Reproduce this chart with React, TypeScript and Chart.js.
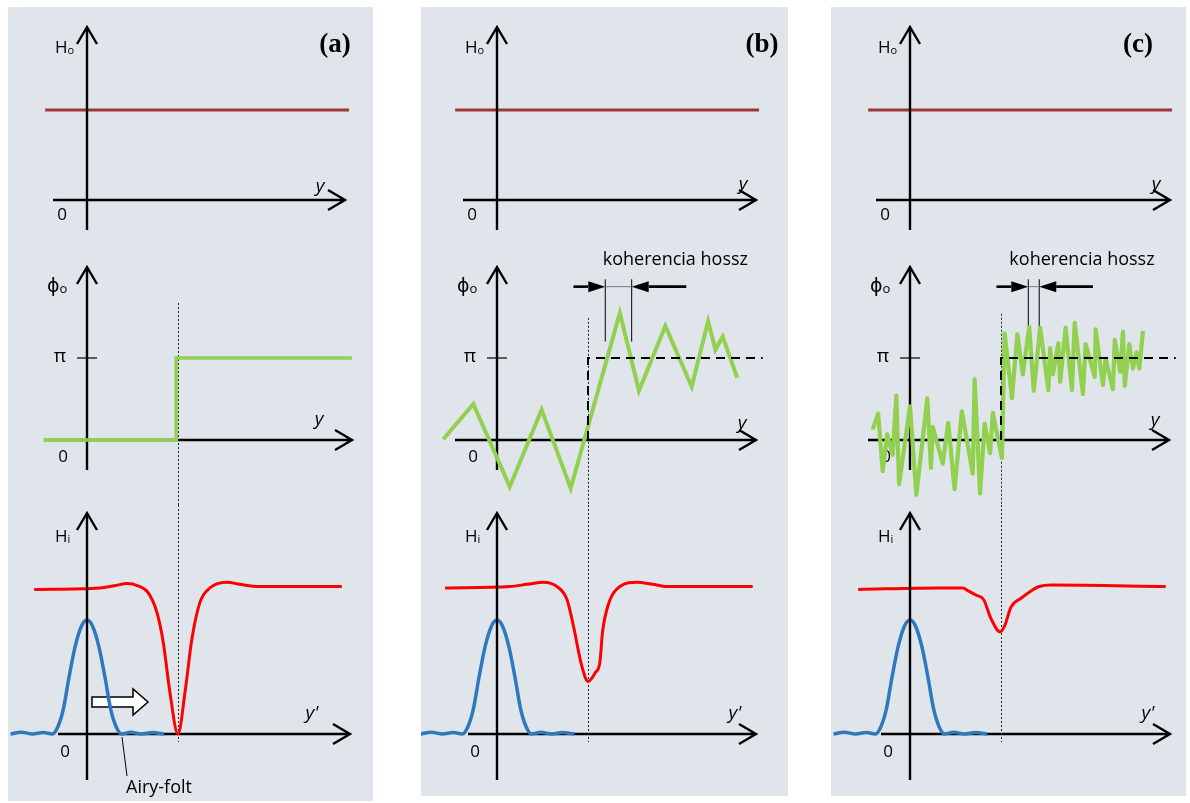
import React, { useEffect, useRef } from "react";
import { Chart, registerables } from "chart.js";
Chart.register(...registerables);

// ---------------- data ----------------
// x: position along y (edge of the object at x = 1, optical axis at x = 0)
// Top row: object amplitude H_o
const HO_X = [-0.46, 2.88];
const HO_Y = [1, 1];

// Middle row: object phase (units of π)
const PHASE_A_X = [-0.48, 0.98, 0.98, 2.91];
const PHASE_A_Y = [0, 0, 1, 1];

const PHASE_B_X = [-0.59, -0.26, 0.14, 0.49, 0.81, 1.35, 1.56, 1.85, 2.14, 2.32, 2.4, 2.48, 2.64];
const PHASE_B_Y = [0.01, 0.44, -0.57, 0.37, -0.59, 1.55, 0.6, 1.39, 0.65, 1.45, 1.1, 1.26, 0.76];

const PHASE_C_X = [
  -0.41, -0.35, -0.3, -0.25, -0.19, -0.15, -0.12, 0.0, 0.07, 0.19, 0.23, 0.25, 0.36, 0.42, 0.49, 0.57,
  0.69, 0.71, 0.77, 0.82, 0.88, 0.91, 1.01, 1.04, 1.12, 1.18, 1.24, 1.31, 1.36, 1.43, 1.52, 1.54, 1.57,
  1.63, 1.65, 1.71, 1.78, 1.81, 1.9, 1.93, 2.03, 2.04, 2.12, 2.15, 2.23, 2.25, 2.31, 2.34, 2.36, 2.41,
  2.45, 2.49, 2.52, 2.56,
];
const PHASE_C_Y = [
  0.13, 0.32, -0.38, 0.07, -0.18, 0.54, -0.54, 0.41, -0.67, 0.51, -0.34, 0.16, -0.29, 0.21, -0.6, 0.35,
  -0.41, 0.74, -0.65, 0.2, -0.16, 0.33, -0.22, 1.3, 0.51, 1.29, 0.8, 1.38, 0.6, 1.37, 0.61, 1.12, 0.8,
  1.18, 0.71, 1.37, 0.61, 1.43, 0.56, 1.17, 0.77, 1.35, 0.67, 0.99, 0.62, 1.22, 0.83, 1.32, 0.66, 1.17,
  0.87, 1.07, 0.87, 1.33,
];

// ideal phase step (dashed)
const STEP_X = [1.0, 1.0, 2.92];
const STEP_Y = [0, 1, 1];

// Bottom row: image amplitude H_i (red) and Airy spot (blue)
const AIRY_X = [-0.84, -0.72, -0.6, -0.48, -0.38, -0.32, -0.26, -0.2, -0.13, -0.06, 0, 0.06, 0.13, 0.2, 0.26, 0.32, 0.38, 0.48, 0.6, 0.72, 0.85];
const AIRY_Y = [0, 0.012, 0, 0.01, 0, 0.05, 0.17, 0.38, 0.6, 0.74, 0.78, 0.74, 0.6, 0.38, 0.17, 0.05, 0, 0.012, 0, 0.01, 0];

const HI_A_X = [-0.58, 0.14, 0.3, 0.44, 0.56, 0.67, 0.77, 0.84, 0.91, 1.0, 1.08, 1.15, 1.24, 1.35, 1.54, 1.68, 1.9, 2.8];
const HI_A_Y = [0.99, 1.0, 1.015, 1.03, 1.015, 0.97, 0.83, 0.62, 0.29, 0.0, 0.3, 0.64, 0.9, 1.0, 1.04, 1.025, 1.01, 1.01];

const HI_B_X = [-0.57, 0.14, 0.33, 0.51, 0.66, 0.77, 0.84, 0.93, 1.0, 1.08, 1.13, 1.16, 1.22, 1.35, 1.54, 1.71, 1.87, 2.81];
const HI_B_Y = [1.0, 1.01, 1.025, 1.04, 1.01, 0.92, 0.74, 0.47, 0.36, 0.42, 0.49, 0.7, 0.88, 1.01, 1.04, 1.025, 1.01, 1.01];

const HI_C_X = [-0.57, 0.34, 0.58, 0.64, 0.73, 0.81, 0.89, 0.99, 1.04, 1.11, 1.22, 1.33, 1.42, 1.55, 2.81];
const HI_C_Y = [0.99, 1.0, 1.0, 0.98, 0.95, 0.92, 0.79, 0.7, 0.74, 0.87, 0.93, 0.98, 1.01, 1.02, 1.01];

// coherence-length markers (x in same units, y in units of π)
const COH_B = { v1: 1.19, v2: 1.48, start: 0.84, end: 2.08, y: 1.87, top: 1.96, bottom: 1.2, textX: 1.96, textY: 2.13 };
const COH_C = { v1: 1.3, v2: 1.42, start: 0.95, end: 2.01, y: 1.87, top: 1.96, bottom: 1.21, textX: 1.89, textY: 2.13 };

// texts
const TITLES = ["(a)", "(b)", "(c)"];
const LABEL_HO = ["H", "o"];
const LABEL_PHI = ["ϕ", "o"];
const LABEL_HI = ["H", "i"];
const TICK_ZERO = "0";
const TICK_PI = "π";
const AXIS_Y = "y";
const AXIS_YP = "y'";
const COH_TEXT = "koherencia hossz";
const AIRY_TEXT = "Airy-folt";

// ---------------- layout ----------------
const BG = "#dfe5eb";
const FONT = '"Open Sans", "DejaVu Sans", sans-serif';
const UX = 91; // px per x unit
const BANDS = {
  top: { top: 7, bottom: 245, oy: 200, uy: 90 },
  mid: { top: 245, bottom: 505, oy: 440, uy: 82 },
  bot: { top: 505, oy: 734, uy: 146 },
};

const PANELS = [
  {
    left: 8, top: 7, width: 365, height: 794, ox: 87, titleX: 335,
    hTip: [258, 265, 263], yLab: [[233, -8], [232, -15], [225, -15]],
    phase: { xs: PHASE_A_X, ys: PHASE_A_Y, width: 3.5, join: "miter" }, step: false, coh: null as any,
    dottedTop: 1.67, hi: { xs: HI_A_X, ys: HI_A_Y }, arrow: true,
  },
  {
    left: 421, top: 7, width: 367, height: 789, ox: 497, titleX: 762,
    hTip: [259, 259, 259], yLab: [[246, -10], [245, -11], [238, -15]],
    phase: { xs: PHASE_B_X, ys: PHASE_B_Y, width: 4, join: "miter" }, step: true, coh: COH_B,
    dottedTop: 1.49, hi: { xs: HI_B_X, ys: HI_B_Y }, arrow: false,
  },
  {
    left: 831, top: 7, width: 355, height: 789, ox: 910, titleX: 1138,
    hTip: [260, 259, 260], yLab: [[246, -10], [245, -14], [238, -15]],
    phase: { xs: PHASE_C_X, ys: PHASE_C_Y, width: 4.2, join: "round" }, step: true, coh: COH_C,
    dottedTop: 1.54, hi: { xs: HI_C_X, ys: HI_C_Y }, arrow: false,
  },
];

// ---------------- helpers ----------------
const pts = (xs: number[], ys: number[]) => xs.map((x, i) => ({ x, y: ys[i] }));

function text(ctx: CanvasRenderingContext2D, s: string, x: number, y: number, font: string, align: CanvasTextAlign = "center") {
  ctx.save();
  ctx.font = font;
  ctx.textAlign = align;
  ctx.textBaseline = "alphabetic";
  ctx.fillStyle = "#000";
  ctx.fillText(s, x, y);
  ctx.restore();
}

function subLabel(ctx: CanvasRenderingContext2D, parts: string[], x: number, y: number, size: number) {
  ctx.save();
  ctx.fillStyle = "#000";
  ctx.textAlign = "left";
  ctx.textBaseline = "alphabetic";
  ctx.font = `${size}px ${FONT}`;
  ctx.fillText(parts[0], x, y);
  const w = ctx.measureText(parts[0]).width;
  ctx.font = `${Math.round(size * 0.66)}px ${FONT}`;
  ctx.fillText(parts[1], x + w, y + 1);
  ctx.restore();
}

function hAxis(ctx: CanvasRenderingContext2D, ox: number, oy: number, left: number, tip: number) {
  ctx.save();
  ctx.strokeStyle = "#000";
  ctx.lineWidth = 2.4;
  ctx.lineJoin = "miter";
  ctx.beginPath();
  ctx.moveTo(ox + left, oy);
  ctx.lineTo(ox + tip, oy);
  ctx.moveTo(ox + tip - 17, oy - 10);
  ctx.lineTo(ox + tip, oy);
  ctx.lineTo(ox + tip - 17, oy + 10);
  ctx.stroke();
  ctx.restore();
}

function vAxis(ctx: CanvasRenderingContext2D, ox: number, oy: number, top: number, bottom: number) {
  ctx.save();
  ctx.strokeStyle = "#000";
  ctx.lineWidth = 2.4;
  ctx.lineJoin = "miter";
  ctx.beginPath();
  ctx.moveTo(ox, oy + bottom);
  ctx.lineTo(ox, oy + top);
  ctx.moveTo(ox - 10, oy + top + 17);
  ctx.lineTo(ox, oy + top);
  ctx.lineTo(ox + 10, oy + top + 17);
  ctx.stroke();
  ctx.restore();
}

function dotted(ctx: CanvasRenderingContext2D, x: number, y1: number, y2: number) {
  ctx.save();
  ctx.strokeStyle = "#222";
  ctx.lineWidth = 1;
  ctx.setLineDash([2, 2]);
  ctx.beginPath();
  ctx.moveTo(Math.round(x) + 0.5, y1);
  ctx.lineTo(Math.round(x) + 0.5, y2);
  ctx.stroke();
  ctx.restore();
}

function filledArrow(ctx: CanvasRenderingContext2D, fromX: number, tipX: number, y: number) {
  const dir = Math.sign(tipX - fromX);
  const headL = 17;
  ctx.save();
  ctx.strokeStyle = "#000";
  ctx.fillStyle = "#000";
  ctx.lineWidth = 2.6;
  ctx.beginPath();
  ctx.moveTo(fromX, y);
  ctx.lineTo(tipX - dir * headL, y);
  ctx.stroke();
  ctx.beginPath();
  ctx.moveTo(tipX, y);
  ctx.lineTo(tipX - dir * headL, y - 5.5);
  ctx.lineTo(tipX - dir * headL, y + 5.5);
  ctx.closePath();
  ctx.fill();
  ctx.restore();
}

type Kind = "top" | "mid" | "bot";

function makeConfig(p: (typeof PANELS)[number], idx: number, kind: Kind, w: number, h: number, bandTop: number) {
  const band = BANDS[kind];
  const oxLocal = p.ox - p.left;
  const oyLocal = band.oy - bandTop;
  const xMin = -oxLocal / UX;
  const xMax = (w - oxLocal) / UX;
  const yMax = oyLocal / band.uy;
  const yMin = (oyLocal - h) / band.uy;

  const datasets: any[] = [];
  const line = (xs: number[], ys: number[], color: string, width: number, extra: any = {}) =>
    datasets.push({
      data: pts(xs, ys),
      borderColor: color,
      borderWidth: width,
      pointRadius: 0,
      fill: false,
      clip: false,
      tension: 0,
      borderJoinStyle: "miter",
      borderCapStyle: "butt",
      ...extra,
    });

  if (kind === "top") {
    line(HO_X, HO_Y, "#9a3a38", 3.2);
  } else if (kind === "mid") {
    if (p.step) line(STEP_X, STEP_Y, "#000", 2, { borderDash: [9, 6] });
    line(p.phase.xs, p.phase.ys, "#92d050", p.phase.width, { borderJoinStyle: p.phase.join });
  } else {
    line(p.hi.xs, p.hi.ys, "#ff0000", 3, { cubicInterpolationMode: "monotone" });
    line(AIRY_X, AIRY_Y, "#2f78bd", 3.5, { cubicInterpolationMode: "monotone" });
  }

  const deco = {
    id: "deco" + kind + idx,
    beforeDatasetsDraw(chart: any) {
      const ctx: CanvasRenderingContext2D = chart.ctx;
      const xs = chart.scales.x;
      const ys = chart.scales.y;
      const ox = xs.getPixelForValue(0);
      const oy = ys.getPixelForValue(0);
      const [ylx, yly] = p.yLab[kind === "top" ? 0 : kind === "mid" ? 1 : 2];
      if (kind === "top") {
        subLabel(ctx, LABEL_HO, ox - 32, oy - 147, 17);
        text(ctx, TICK_ZERO, ox - 25, oy + 20, `17px ${FONT}`);
        text(ctx, AXIS_Y, ox + ylx, oy + yly, `italic 19px ${FONT}`);
        text(ctx, TITLES[idx], p.titleX - p.left, 52 - bandTop, `bold 27px "Liberation Serif", serif`);
      } else if (kind === "mid") {
        subLabel(ctx, LABEL_PHI, ox - 40, oy - 148, 19);
        text(ctx, TICK_PI, ox - 27, oy - 78, `19px ${FONT}`);
        text(ctx, TICK_ZERO, ox - 24, oy + 22, `17px ${FONT}`);
        text(ctx, AXIS_Y, ox + ylx, oy + yly, `italic 19px ${FONT}`);
        // π tick
        const piY = ys.getPixelForValue(1);
        ctx.save();
        ctx.strokeStyle = "#000";
        ctx.lineWidth = 1.2;
        ctx.beginPath();
        ctx.moveTo(ox - 10, piY);
        ctx.lineTo(ox + 10, piY);
        ctx.stroke();
        ctx.restore();
        hAxis(ctx, ox, oy, -42, p.hTip[1]);
        vAxis(ctx, ox, oy, -173, 30);
        dotted(ctx, xs.getPixelForValue(1), ys.getPixelForValue(p.dottedTop), chart.height);
        const c = p.coh;
        if (c) {
          text(ctx, COH_TEXT, xs.getPixelForValue(c.textX), ys.getPixelForValue(c.textY), `18px ${FONT}`);
          const x1 = xs.getPixelForValue(c.v1);
          const x2 = xs.getPixelForValue(c.v2);
          const ay = ys.getPixelForValue(c.y);
          ctx.save();
          ctx.strokeStyle = "#000";
          ctx.lineWidth = 1;
          ctx.beginPath();
          ctx.moveTo(x1, ys.getPixelForValue(c.top));
          ctx.lineTo(x1, ys.getPixelForValue(c.bottom));
          ctx.moveTo(x2, ys.getPixelForValue(c.top));
          ctx.lineTo(x2, ys.getPixelForValue(c.bottom));
          ctx.stroke();
          ctx.strokeStyle = "#777";
          ctx.beginPath();
          ctx.moveTo(x1, ay);
          ctx.lineTo(x2, ay);
          ctx.stroke();
          ctx.restore();
          filledArrow(ctx, xs.getPixelForValue(c.start), x1, ay);
          filledArrow(ctx, xs.getPixelForValue(c.end), x2, ay);
        }
      } else {
        subLabel(ctx, LABEL_HI, ox - 32, oy - 192, 17);
        text(ctx, TICK_ZERO, ox - 22, oy + 23, `17px ${FONT}`);
        text(ctx, AXIS_YP, ox + ylx, oy + yly, `italic 19px ${FONT}`);
        hAxis(ctx, ox, oy, -29, p.hTip[2]);
        dotted(ctx, xs.getPixelForValue(1), 0, ys.getPixelForValue(-0.055));
        if (p.arrow) {
          ctx.save();
          ctx.fillStyle = "#fff";
          ctx.strokeStyle = "#000";
          ctx.lineWidth = 1.5;
          ctx.beginPath();
          ctx.moveTo(ox + 5, oy - 37);
          ctx.lineTo(ox + 46, oy - 37);
          ctx.lineTo(ox + 46, oy - 45);
          ctx.lineTo(ox + 61, oy - 32);
          ctx.lineTo(ox + 46, oy - 19);
          ctx.lineTo(ox + 46, oy - 27);
          ctx.lineTo(ox + 5, oy - 27);
          ctx.closePath();
          ctx.fill();
          ctx.stroke();
          // Airy-folt leader
          ctx.lineWidth = 1;
          ctx.beginPath();
          ctx.moveTo(ox + 35, oy + 3);
          ctx.lineTo(ox + 40, oy + 42);
          ctx.stroke();
          ctx.restore();
          text(ctx, AIRY_TEXT, ox + 39, oy + 59, `18px ${FONT}`, "left");
        }
      }
    },
    afterDatasetsDraw(chart: any) {
      const ctx: CanvasRenderingContext2D = chart.ctx;
      const ox = chart.scales.x.getPixelForValue(0);
      const oy = chart.scales.y.getPixelForValue(0);
      if (kind === "top") {
        hAxis(ctx, ox, oy, -34, p.hTip[0]);
        vAxis(ctx, ox, oy, -173, 30);
      } else if (kind === "bot") {
        vAxis(ctx, ox, oy, -221, 46);
      }
    },
  };

  return {
    type: "line" as const,
    data: { datasets },
    options: {
      animation: false as const,
      responsive: false,
      maintainAspectRatio: false,
      events: [] as any[],
      layout: { padding: 0 },
      plugins: { legend: { display: false }, tooltip: { enabled: false }, title: { display: false } },
      scales: {
        x: { type: "linear" as const, display: false, min: xMin, max: xMax, bounds: "data" as const },
        y: { type: "linear" as const, display: false, min: yMin, max: yMax, bounds: "data" as const },
      },
    },
    plugins: [deco],
  };
}

function Sub({ p, idx, kind }: { p: (typeof PANELS)[number]; idx: number; kind: Kind }) {
  const ref = useRef<HTMLCanvasElement>(null);
  const bandTop = BANDS[kind].top;
  const bandBottom = kind === "bot" ? p.top + p.height : (BANDS[kind] as any).bottom;
  const w = p.width;
  const h = bandBottom - bandTop;
  useEffect(() => {
    const chart = new Chart(ref.current as HTMLCanvasElement, makeConfig(p, idx, kind, w, h, bandTop) as any);
    return () => chart.destroy();
  }, []);
  return (
    <canvas
      ref={ref}
      width={w}
      height={h}
      style={{ position: "absolute", left: 0, top: bandTop - p.top, width: w, height: h, display: "block" }}
    />
  );
}

export default function App() {
  return (
    <div style={{ position: "absolute", left: 0, top: 0, width: 1190, height: 803, background: "#fff", overflow: "hidden" }}>
      {PANELS.map((p, i) => (
        <div
          key={i}
          style={{ position: "absolute", left: p.left, top: p.top, width: p.width, height: p.height, background: BG }}
        >
          <Sub p={p} idx={i} kind="top" />
          <Sub p={p} idx={i} kind="mid" />
          <Sub p={p} idx={i} kind="bot" />
        </div>
      ))}
    </div>
  );
}
